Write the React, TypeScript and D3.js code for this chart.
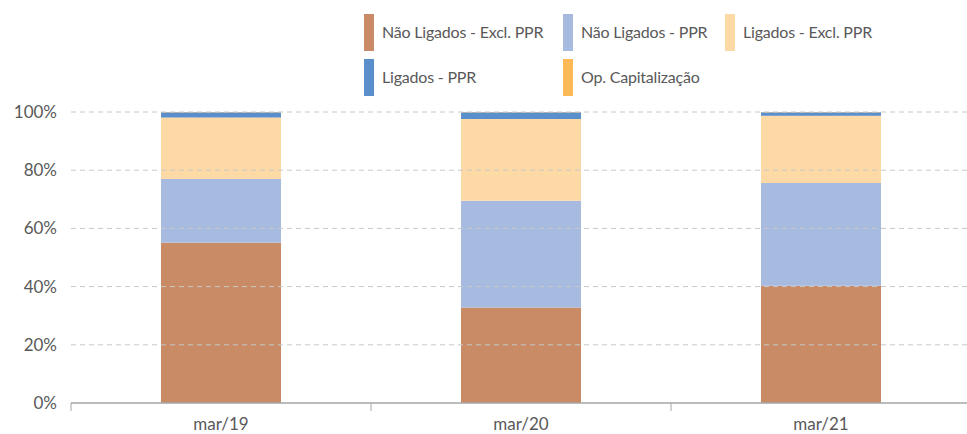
import React from "react";
import * as d3 from "d3";

const categories = ["mar/19", "mar/20", "mar/21"];
const seriesNames = ["Não Ligados - Excl. PPR", "Não Ligados - PPR", "Ligados - Excl. PPR", "Ligados - PPR", "Op. Capitalização"];
const naoLigadosExcl = [55.1, 32.8, 40.3];
const naoLigadosPPR = [21.9, 36.7, 35.3];
const ligadosExcl = [21.1, 28.1, 23.1];
const ligadosPPR = [1.8, 2.3, 1.2];
const opCapitalizacao = [0.1, 0.1, 0.1];
const yTicks = [0, 20, 40, 60, 80, 100];
const colors = ["#C98B66", "#A7BBE1", "#FDD9A5", "#5B8FCC", "#FDB955"];

const W = 967, H = 434;
const font = "Lato, 'Open Sans', sans-serif";
const textColor = "#595959";

export default function App() {
  const left = 71, right = 971, top = 112, bottom = 403;
  const x = d3.scaleBand<string>().domain(categories).range([left, right]).paddingInner(0.6).paddingOuter(0.3);
  const xTickScale = d3.scaleBand<string>().domain(categories).range([left, right]);
  const y = d3.scaleLinear().domain([0, 100]).range([bottom, top]);

  const rows = categories.map((c, i) => ({
    cat: c,
    s0: naoLigadosExcl[i],
    s1: naoLigadosPPR[i],
    s2: ligadosExcl[i],
    s3: ligadosPPR[i],
    s4: opCapitalizacao[i],
  }));
  const stack = d3.stack<any>().keys(["s0", "s1", "s2", "s3", "s4"]);
  const layers = stack(rows);

  const legendPos = [
    { x: 364, y: 14 },
    { x: 563, y: 14 },
    { x: 725, y: 14 },
    { x: 364, y: 59 },
    { x: 563, y: 59 },
  ];

  return (
    <svg width={W} height={H} style={{ position: "absolute", left: 0, top: 0 }}>
      <rect width={W} height={H} fill="#fff" />
      {layers.map((layer, li) => (
        <g key={li}>
          {layer.map((d, i) => (
            <rect
              key={i}
              x={x(categories[i])}
              width={x.bandwidth()}
              y={y(d[1])}
              height={Math.max(0, y(d[0]) - y(d[1]))}
              fill={colors[li]}
            />
          ))}
        </g>
      ))}
      {yTicks.filter(t => t > 0).map(t => (
        <line key={t} x1={left} x2={W} y1={y(t)} y2={y(t)} stroke="#c8c8c8" strokeWidth={1} strokeDasharray="5,4" />
      ))}
      {yTicks.map(t => (
        <text key={t} x={57} y={y(t)} dy="0.35em" textAnchor="end" fontFamily={font} fontSize={17} fill={textColor}>
          {t}%
        </text>
      ))}
      <line x1={left} x2={W} y1={bottom} y2={bottom} stroke="#a6a6a6" strokeWidth={1.5} />
      {categories.map(c => (
        <line key={c} x1={xTickScale(c)!} x2={xTickScale(c)!} y1={bottom} y2={bottom + 8} stroke="#a6a6a6" strokeWidth={1} />
      ))}
      {categories.map(c => (
        <text key={c} x={x(c)! + x.bandwidth() / 2} y={424} dy="0.35em" textAnchor="middle" fontFamily={font} fontSize={17} fill={textColor}>
          {c}
        </text>
      ))}
      {seriesNames.map((n, i) => (
        <g key={n}>
          <rect x={legendPos[i].x} y={legendPos[i].y} width={10} height={37} fill={colors[i]} />
          <text x={legendPos[i].x + 18} y={legendPos[i].y + 18.5} dy="0.35em" fontFamily={font} fontSize={16} letterSpacing={-0.2} fill={textColor}>
            {n}
          </text>
        </g>
      ))}
    </svg>
  );
}
